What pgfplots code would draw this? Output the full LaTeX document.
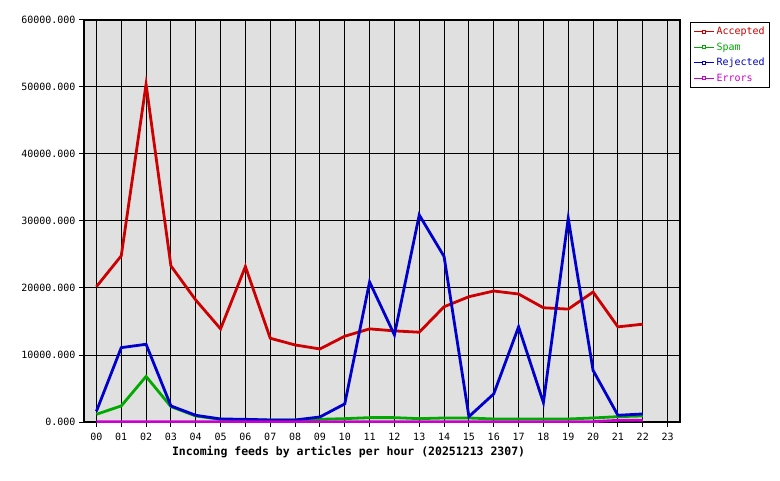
\documentclass[border=0pt]{standalone}
\usepackage{fontspec}
\setmainfont{DejaVu Sans Mono}
\usepackage{pgfplots}
\pgfplotsset{compat=1.18}
\definecolor{acc}{HTML}{CC0000}
\definecolor{spam}{HTML}{00AA00}
\definecolor{rej}{HTML}{0000CC}
\definecolor{err}{HTML}{CC00CC}
\definecolor{plotbg}{HTML}{E0E0E0}

\begin{document}
\begin{tikzpicture}
\useasboundingbox (0pt,0pt) rectangle (780pt,480pt);
\begin{axis}[
    at={(84pt,58pt)}, anchor=south west,
    scale only axis,
    width=596pt, height=402pt,
    xmin=-0.5, xmax=23.5,
    ymin=0, ymax=60000,
    xtick={0,...,23},
    xticklabels={00,01,02,03,04,05,06,07,08,09,10,11,12,13,14,15,16,17,18,19,20,21,22,23},
    ytick={0,10000,20000,30000,40000,50000,60000},
    yticklabels={0.000,10000.000,20000.000,30000.000,40000.000,50000.000,60000.000},
    scaled y ticks=false,
    xtick pos=bottom, ytick pos=left,
    tick align=outside,
    major tick length=5pt,
    tick style={black, line width=1pt},
    grid=major,
    major grid style={black, line width=1pt},
    axis line style={black, line width=1.5pt},
    axis background/.style={fill=plotbg},
    tick label style={font=\fontsize{10}{12}\selectfont},
    xticklabel style={yshift=-3pt},
    xlabel={\bfseries Incoming feeds by articles per hour (20251213 2307)},
    xlabel style={at={(axis description cs:0.444,-0.0746)}, anchor=center, font=\fontsize{11.5}{13}\selectfont},
    legend style={at={(axis description cs:1.0168,0.996)}, anchor=north west,
        draw=black, line width=1pt, fill=white, font=\fontsize{10}{12}\selectfont,
        row sep=2.5pt, inner sep=3pt, cells={anchor=west}},
    legend image code/.code={
        \draw[#1, line width=1pt] (0pt,0pt) -- (20pt,0pt);
        \draw[#1, line width=0.8pt, fill=white] (8.5pt,-1.5pt) rectangle (11.5pt,1.5pt);
    },
    legend entries={\textcolor{acc}{Accepted},\textcolor{spam}{Spam},\textcolor{rej}{Rejected},\textcolor{err}{Errors}},
    every axis plot/.append style={line width=2.8pt, mark=none},
]
% Accepted
\addplot[acc] coordinates {
(0,20200) (1,24800) (2,50400) (3,23300) (4,18200) (5,13900) (6,23200) (7,12500)
(8,11500) (9,10900) (10,12800) (11,13900) (12,13600) (13,13400) (14,17200) (15,18700)
(16,19550) (17,19100) (18,17050) (19,16850) (20,19400) (21,14200) (22,14600)};
% Spam
\addplot[spam] coordinates {
(0,1150) (1,2400) (2,6800) (3,2300) (4,900) (5,400) (6,300) (7,300)
(8,300) (9,400) (10,500) (11,650) (12,650) (13,500) (14,600) (15,600)
(16,450) (17,450) (18,450) (19,450) (20,600) (21,800) (22,900)};
% Rejected
\addplot[rej] coordinates {
(0,1600) (1,11100) (2,11600) (3,2400) (4,1000) (5,450) (6,400) (7,300)
(8,300) (9,750) (10,2700) (11,20900) (12,13000) (13,30900) (14,24700) (15,800)
(16,4200) (17,14200) (18,2900) (19,30400) (20,7700) (21,1000) (22,1200)};
% Errors
\addplot[err] coordinates {
(0,50) (1,50) (2,50) (3,50) (4,50) (5,50) (6,50) (7,50)
(8,50) (9,50) (10,50) (11,50) (12,50) (13,50) (14,50) (15,50)
(16,50) (17,50) (18,50) (19,50) (20,50) (21,250) (22,250)};
\end{axis}
\end{tikzpicture}
\end{document}
